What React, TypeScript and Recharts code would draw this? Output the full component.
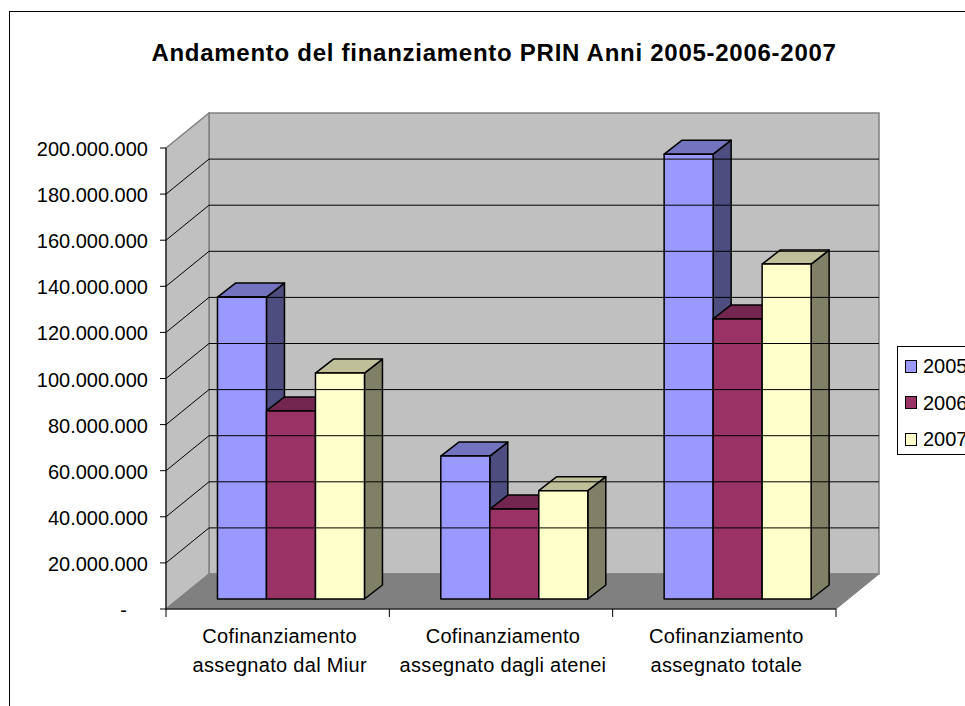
import { BarChart, Bar, XAxis, YAxis, Legend, ReferenceArea, ReferenceLine } from 'recharts';

const categories = ['Cofinanziamento assegnato dal Miur', 'Cofinanziamento assegnato dagli atenei', 'Cofinanziamento assegnato totale'];
const values2005 = [131000000, 62000000, 193000000];
const values2006 = [81600000, 39000000, 121500000];
const values2007 = [98000000, 47000000, 145300000];
const yTicks = [0, 20000000, 40000000, 60000000, 80000000, 100000000, 120000000, 140000000, 160000000, 180000000, 200000000];
const seriesNames = ['2005', '2006', '2007'];

const data = categories.map((name, i) => ({
    name,
    v2005: values2005[i],
    v2006: values2006[i],
    v2007: values2007[i],
}));

const FONT = '"Liberation Sans", Arial, sans-serif';
const DEPTH_X = 43;
const DEPTH_Y = 35;
const BAR_DX = 13.5;
const BAR_DY = 10;
const BAR_SIDE_X = 18;
const BAR_SIDE_Y = 14;
const AXIS_Y = 609;

const colors = {
    v2005: { front: '#9999FF', top: '#7373BF', side: '#4D4D80' },
    v2006: { front: '#993366', top: '#732650', side: '#4D1A33' },
    v2007: { front: '#FFFFCC', top: '#BFBF99', side: '#808066' },
};
const legendColors = [colors.v2005.front, colors.v2006.front, colors.v2007.front];

const Walls = ({ x, y, width, height }: any) => {
    const b = y + height;
    const r = x + width;
    return (
        <g>
            <rect x={x + DEPTH_X} y={y - DEPTH_Y} width={width} height={height} fill='#C0C0C0' stroke='#808080' strokeWidth={1.5} />
            <polygon
                points={`${x},${y} ${x + DEPTH_X},${y - DEPTH_Y} ${x + DEPTH_X},${b - DEPTH_Y} ${x},${b}`}
                fill='#C0C0C0'
                stroke='#808080'
                strokeWidth={1.5}
            />
            <polygon
                points={`${x},${b} ${r},${b} ${r + DEPTH_X},${b - DEPTH_Y} ${x + DEPTH_X},${b - DEPTH_Y}`}
                fill='#808080'
                stroke='#808080'
            />
        </g>
    );
};

const GridWithDepth = ({ x1, y1, x2 }: any) => (
    <g>
        <line x1={x1} y1={y1} x2={x1 + DEPTH_X} y2={y1 - DEPTH_Y} stroke='#000' />
        <line x1={x1 + DEPTH_X} y1={y1 - DEPTH_Y} x2={x2 + DEPTH_X} y2={y1 - DEPTH_Y} stroke='#000' />
    </g>
);

const Bar3D = ({ x, y, width, height, fill, dataKey }: any) => {
    const c = colors[dataKey as keyof typeof colors];
    const l = x + BAR_DX;
    const t = y - BAR_DY;
    const r = l + width;
    const b = t + height;
    return (
        <g stroke='#000' strokeWidth={1.5} strokeLinejoin='round'>
            <polygon points={`${r},${t} ${r + BAR_SIDE_X},${t - BAR_SIDE_Y} ${r + BAR_SIDE_X},${b - BAR_SIDE_Y} ${r},${b}`} fill={c.side} />
            <polygon points={`${l},${t} ${l + BAR_SIDE_X},${t - BAR_SIDE_Y} ${r + BAR_SIDE_X},${t - BAR_SIDE_Y} ${r},${t}`} fill={c.top} />
            <rect x={l} y={t} width={width} height={height} fill={fill} />
        </g>
    );
};

// tick marks sit on the category boundaries, not the centres
const CategoryTick = ({ x, width, visibleTicksCount, index, payload }: any) => {
    const words = String(payload.value).split(' ');
    const band = width / visibleTicksCount;
    const left = x - band / 2;
    return (
        <g>
            <line x1={left} y1={AXIS_Y} x2={left} y2={AXIS_Y + 8} stroke='#000' />
            {index === visibleTicksCount - 1 && <line x1={left + band} y1={AXIS_Y} x2={left + band} y2={AXIS_Y + 8} stroke='#000' />}
            <text textAnchor='middle' fontFamily={FONT} fontSize={20} letterSpacing={0.3} fill='#000'>
                <tspan x={x + 2} y={643}>{words[0]}</tspan>
                <tspan x={x + 2} y={672}>{words.slice(1).join(' ')}</tspan>
            </text>
        </g>
    );
};

const formatTick = (v: number) => String(v).replace(/\B(?=(\d{3})+$)/g, '.');

const ValueTick = ({ x, y, payload }: any) => (
    <text
        x={payload.value === 0 ? x - 21 : x}
        y={y}
        dy={8}
        textAnchor='end'
        fontFamily={FONT}
        fontSize={20}
        fill='#000'
    >
        {payload.value === 0 ? '-' : formatTick(payload.value)}
    </text>
);

const LegendBox = () => (
    <div style={{ width: 100, height: 109, boxSizing: 'border-box', border: '1px solid #000', background: '#fff', position: 'relative', fontFamily: FONT, fontSize: 20 }}>
        {seriesNames.map((n, i) => (
            <div key={n} style={{ position: 'absolute', left: 7, top: 9 + i * 36.5, display: 'flex', alignItems: 'center', lineHeight: '20px' }}>
                <span style={{ display: 'inline-block', boxSizing: 'border-box', width: 12, height: 13, border: '1.5px solid #000', background: legendColors[i], marginRight: 6 }} />
                <span>{n}</span>
            </div>
        ))}
    </div>
);

export default function App() {
    return (
        <div style={{ position: 'absolute', left: 0, top: 0, width: 965, height: 706, overflow: 'hidden', background: '#fff' }}>
            <div style={{ position: 'absolute', left: 9, top: 11, width: 1000, height: 800, border: '1px solid #000' }} />
            <div style={{ position: 'absolute', left: 0, top: 39, width: 988, textAlign: 'center', fontFamily: FONT, fontSize: 24, fontWeight: 'bold', lineHeight: '28px', letterSpacing: 0.73 }}>
                Andamento del finanziamento PRIN Anni 2005-2006-2007
            </div>
            <BarChart
                width={965}
                height={706}
                data={data}
                barGap={0}
                barCategoryGap='17%'
                margin={{ top: 148, right: 129, left: 0, bottom: 0 }}
                style={{ position: 'absolute', left: 0, top: 0 }}
            >
                <ReferenceArea y1={0} y2={200000000} shape={<Walls />} ifOverflow='visible' />
                {yTicks.slice(1, -1).map((t) => (
                    <ReferenceLine key={t} y={t} shape={<GridWithDepth />} ifOverflow='visible' />
                ))}
                <XAxis dataKey='name' height={97} interval={0} tick={<CategoryTick />} tickLine={false} stroke='#000' />
                <YAxis
                    width={166}
                    domain={[0, 200000000]}
                    ticks={yTicks}
                    interval={0}
                    tick={<ValueTick />}
                    tickSize={6}
                    tickMargin={12}
                    stroke='#000'
                />
                <Legend
                    layout='vertical'
                    align='center'
                    verticalAlign='middle'
                    content={<LegendBox />}
                    wrapperStyle={{ left: 897, top: 346, width: 100, height: 109 }}
                />
                <Bar dataKey='v2005' name='2005' fill={colors.v2005.front} shape={<Bar3D />} isAnimationActive={false} />
                <Bar dataKey='v2006' name='2006' fill={colors.v2006.front} shape={<Bar3D />} isAnimationActive={false} />
                <Bar dataKey='v2007' name='2007' fill={colors.v2007.front} shape={<Bar3D />} isAnimationActive={false} />
            </BarChart>
        </div>
    );
}
